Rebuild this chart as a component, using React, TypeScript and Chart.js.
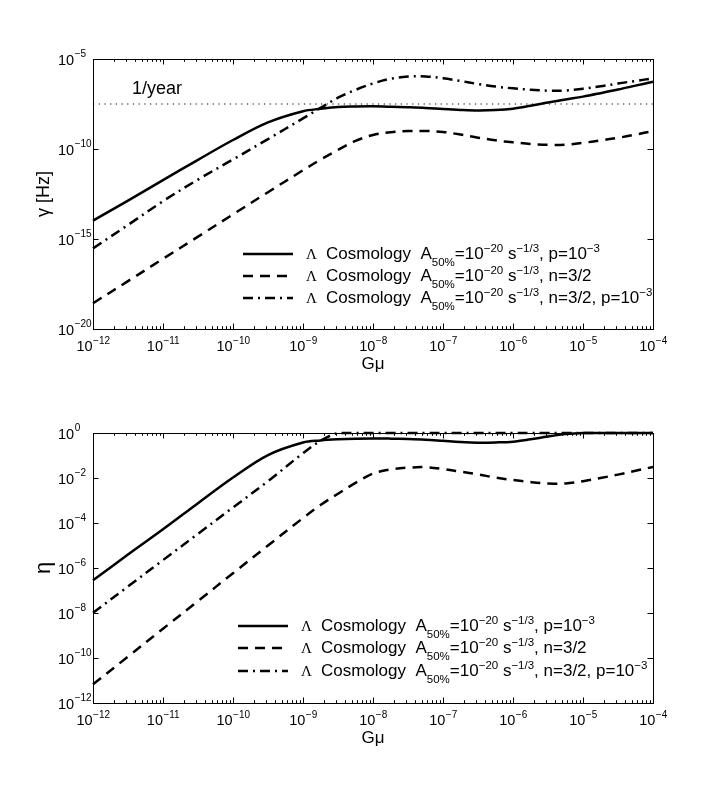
import React, { useEffect, useRef } from 'react';
import { Chart, registerables } from 'chart.js';

Chart.register(...registerables);

// ---------- data ----------
const GMU = [
  1e-12, 3.162e-12, 1e-11, 3.162e-11, 1e-10, 3.162e-10, 1e-9, 1.778e-9, 3.162e-9, 5.623e-9,
  1e-8, 1.778e-8, 3.162e-8, 5.623e-8, 1e-7, 1.778e-7, 3.162e-7, 5.623e-7, 1e-6, 1.778e-6,
  3.162e-6, 5.623e-6, 1e-5, 1.778e-5, 3.162e-5, 5.623e-5, 1e-4,
];

// gamma [Hz]
const GAMMA_P = [
  1.05e-14, 1.35e-13, 1.86e-12, 2.51e-11, 3.16e-10, 3.02e-9, 1.26e-8, 1.7e-8, 2.14e-8, 2.29e-8,
  2.34e-8, 2.24e-8, 2.09e-8, 1.91e-8, 1.66e-8, 1.48e-8, 1.38e-8, 1.45e-8, 1.74e-8, 2.51e-8,
  3.8e-8, 5.62e-8, 8.13e-8, 1.26e-7, 2.0e-7, 3.31e-7, 5.5e-7,
];
const GAMMA_N = [
  2.69e-19, 4.57e-18, 7.94e-17, 1.35e-15, 2.34e-14, 3.98e-13, 6.61e-12, 2.57e-11, 8.91e-11, 2.82e-10,
  6.03e-10, 8.51e-10, 1.0e-9, 1.0e-9, 8.91e-10, 6.31e-10, 4.27e-10, 3.02e-10, 2.34e-10, 1.91e-10,
  1.7e-10, 1.74e-10, 2.19e-10, 3.02e-10, 4.17e-10, 6.31e-10, 1.0e-9,
];
const GAMMA_NP = [
  3.02e-16, 6.03e-15, 1.26e-13, 2.0e-12, 2.63e-11, 3.55e-10, 5.01e-9, 1.91e-8, 7.08e-8, 1.91e-7,
  4.37e-7, 7.94e-7, 1.05e-6, 1.07e-6, 8.51e-7, 6.03e-7, 4.07e-7, 2.95e-7, 2.34e-7, 1.95e-7,
  1.74e-7, 1.78e-7, 2.24e-7, 3.02e-7, 4.37e-7, 6.03e-7, 8.51e-7,
];
const ONE_OVER_YEAR_HZ = 3.17e-8;

// eta
const ETA_P = [
  2.82e-7, 3.98e-6, 5.25e-5, 7.59e-4, 1.05e-2, 0.105, 0.38, 0.468, 0.525, 0.562,
  0.575, 0.562, 0.537, 0.501, 0.447, 0.398, 0.372, 0.38, 0.41, 0.525,
  0.7, 0.891, 1, 1, 1, 1, 1,
];
const ETA_N = [
  6.76e-12, 1.15e-10, 2.0e-9, 3.39e-8, 5.89e-7, 1.0e-5, 1.66e-4, 6.31e-4, 2.0e-3, 6.03e-3,
  1.58e-2, 2.4e-2, 2.88e-2, 3.02e-2, 2.51e-2, 1.91e-2, 1.45e-2, 1.05e-2, 8.13e-3, 6.61e-3,
  5.75e-3, 5.75e-3, 7.24e-3, 1.0e-2, 1.41e-2, 2.09e-2, 3.09e-2,
];
const ETA_NP = [
  1.02e-8, 1.51e-7, 2.24e-6, 3.31e-5, 4.9e-4, 7.24e-3, 0.126, 0.447, 1, 1,
  1, 1, 1, 1, 1, 1, 1, 1, 1, 1,
  1, 1, 1, 1, 1, 1, 1,
];

// ticks
const X_TICKS = [1e-12, 1e-11, 1e-10, 1e-9, 1e-8, 1e-7, 1e-6, 1e-5, 1e-4];
const X_TICK_EXP = ['−12', '−11', '−10', '−9', '−8', '−7', '−6', '−5', '−4'];
const MINOR_MULT = [2, 3, 4, 5, 6, 7, 8, 9];
const GAMMA_TICKS = [1e-5, 1e-10, 1e-15, 1e-20];
const GAMMA_TICK_EXP = ['−5', '−10', '−15', '−20'];
const ETA_TICKS = [1, 1e-2, 1e-4, 1e-6, 1e-8, 1e-10, 1e-12];
const ETA_TICK_EXP = ['0', '−2', '−4', '−6', '−8', '−10', '−12'];

// texts
const X_TITLE = 'Gμ';
const GAMMA_TITLE = 'γ [Hz]';
const ETA_TITLE = 'η';
const YEAR_LABEL = '1/year';
type Seg = { t: string; k: 'n' | 's' | 'b' };
const LEGEND_ROWS: Seg[][] = [
  [
    { t: 'Cosmology  A', k: 'n' }, { t: '50%', k: 'b' }, { t: '=10', k: 'n' }, { t: '−20', k: 's' },
    { t: ' s', k: 'n' }, { t: '−1/3', k: 's' }, { t: ', p=10', k: 'n' }, { t: '−3', k: 's' },
  ],
  [
    { t: 'Cosmology  A', k: 'n' }, { t: '50%', k: 'b' }, { t: '=10', k: 'n' }, { t: '−20', k: 's' },
    { t: ' s', k: 'n' }, { t: '−1/3', k: 's' }, { t: ', n=3/2', k: 'n' },
  ],
  [
    { t: 'Cosmology  A', k: 'n' }, { t: '50%', k: 'b' }, { t: '=10', k: 'n' }, { t: '−20', k: 's' },
    { t: ' s', k: 'n' }, { t: '−1/3', k: 's' }, { t: ', n=3/2, p=10', k: 'n' }, { t: '−3', k: 's' },
  ],
];
const LAMBDA = 'Λ';

// ---------- styles ----------
const SANS = '"Liberation Sans", Arial, Helvetica, sans-serif';
const SERIF = '"Liberation Serif", "Times New Roman", serif';
const DASHES: number[][] = [[], [10, 7], [10, 5, 2, 5]];
const LW = 2.5;

function series(ys: number[]) {
  return GMU.map((g, i) => ({ x: g, y: ys[i] }));
}

function makeDatasets(p: number[], n: number[], np: number[]) {
  return [p, n, np].map((arr, i) => ({
    data: series(arr),
    borderColor: '#000',
    borderWidth: LW,
    borderDash: DASHES[i],
    pointRadius: 0,
    tension: 0.35,
    fill: false,
    clip: 4,
  }));
}

function drawRich(ctx: CanvasRenderingContext2D, segs: Seg[], x: number, y: number, size: number, small: number) {
  let cx = x;
  ctx.textAlign = 'left';
  ctx.textBaseline = 'alphabetic';
  for (const s of segs) {
    ctx.font = `${s.k === 'n' ? size : small}px ${SANS}`;
    const dy = s.k === 's' ? -size * 0.42 : s.k === 'b' ? size * 0.4 : 0;
    ctx.fillText(s.t, cx, y + dy);
    cx += ctx.measureText(s.t).width;
  }
}

type PanelOpts = {
  yTicks: number[];
  yExp: string[];
  yTitle: string;
  yTitleSize: number;
  legendOffsets: number[];
  legendLineX: number;
  yearLine: boolean;
};

function axesPlugin(o: PanelOpts) {
  return {
    id: 'matlabAxes',
    afterDatasetsDraw(chart: any) {
      const { ctx, chartArea: a, scales } = chart;
      const xs = scales.x;
      const ys = scales.y;
      ctx.save();
      ctx.strokeStyle = '#000';
      ctx.fillStyle = '#000';
      ctx.lineWidth = 1;
      ctx.setLineDash([]);
      ctx.strokeRect(a.left + 0.5, a.top + 0.5, a.right - a.left, a.bottom - a.top);
      ctx.beginPath();
      const MAJ = 5.5;
      const MIN = 2.8;
      X_TICKS.forEach((v, i) => {
        const px = Math.round(xs.getPixelForValue(v)) + 0.5;
        ctx.moveTo(px, a.bottom); ctx.lineTo(px, a.bottom - MAJ);
        ctx.moveTo(px, a.top); ctx.lineTo(px, a.top + MAJ);
        if (i < X_TICKS.length - 1) {
          MINOR_MULT.forEach((m) => {
            const qx = Math.round(xs.getPixelForValue(v * m)) + 0.5;
            ctx.moveTo(qx, a.bottom); ctx.lineTo(qx, a.bottom - MIN);
            ctx.moveTo(qx, a.top); ctx.lineTo(qx, a.top + MIN);
          });
        }
      });
      o.yTicks.forEach((v) => {
        const py = Math.round(ys.getPixelForValue(v)) + 0.5;
        ctx.moveTo(a.left, py); ctx.lineTo(a.left + MAJ, py);
        ctx.moveTo(a.right, py); ctx.lineTo(a.right - MAJ, py);
      });
      ctx.stroke();

      // tick labels
      const BIG = 14.5;
      const SMALL = 10;
      ctx.textBaseline = 'alphabetic';
      X_TICKS.forEach((v, i) => {
        const px = xs.getPixelForValue(v);
        ctx.font = `${BIG}px ${SANS}`;
        const w1 = ctx.measureText('10').width;
        ctx.font = `${SMALL}px ${SANS}`;
        const w2 = ctx.measureText(X_TICK_EXP[i]).width;
        const start = px - (w1 + w2) / 2;
        ctx.textAlign = 'left';
        ctx.font = `${BIG}px ${SANS}`;
        ctx.fillText('10', start, a.bottom + 22);
        ctx.font = `${SMALL}px ${SANS}`;
        ctx.fillText(X_TICK_EXP[i], start + w1 + 0.5, a.bottom + 15);
      });
      o.yTicks.forEach((v, i) => {
        const py = ys.getPixelForValue(v);
        const lx = a.left - 35;
        ctx.textAlign = 'left';
        ctx.font = `${BIG}px ${SANS}`;
        const w1 = ctx.measureText('10').width;
        ctx.fillText('10', lx, py + 5.5);
        ctx.font = `${SMALL}px ${SANS}`;
        ctx.fillText(o.yExp[i], lx + w1 + 0.5, py - 2.5);
      });

      // axis titles
      ctx.font = `17px ${SANS}`;
      ctx.textAlign = 'center';
      ctx.fillText(X_TITLE, (a.left + a.right) / 2, a.bottom + 39.5);
      ctx.save();
      ctx.translate(44, (a.top + a.bottom) / 2);
      ctx.rotate(-Math.PI / 2);
      ctx.font = `${o.yTitleSize}px ${SANS}`;
      ctx.textBaseline = 'middle';
      ctx.fillText(o.yTitle, 0, 0);
      ctx.restore();

      if (o.yearLine) {
        ctx.font = `18px ${SANS}`;
        ctx.textAlign = 'left';
        ctx.textBaseline = 'alphabetic';
        ctx.fillText(YEAR_LABEL, a.left + 39, ys.getPixelForValue(ONE_OVER_YEAR_HZ) - 10);
      }

      // legend
      LEGEND_ROWS.forEach((segs, i) => {
        const y = a.bottom - o.legendOffsets[i];
        const lx0 = a.left + o.legendLineX;
        ctx.lineWidth = LW;
        ctx.setLineDash(DASHES[i]);
        ctx.beginPath();
        ctx.moveTo(lx0, y);
        ctx.lineTo(lx0 + 50, y);
        ctx.stroke();
        ctx.setLineDash([]);
        ctx.textAlign = 'left';
        ctx.textBaseline = 'alphabetic';
        ctx.font = `15px ${SERIF}`;
        ctx.fillText(LAMBDA, lx0 + 63, y + 4.8);
        drawRich(ctx, segs, lx0 + 83, y + 5, 17, 11.5);
      });
      ctx.restore();
    },
  };
}

function baseOptions(padding: any, yMin: number, yMax: number) {
  return {
    animation: false as const,
    responsive: false,
    events: [] as any[],
    layout: { padding },
    plugins: { legend: { display: false }, tooltip: { enabled: false } },
    scales: {
      x: { type: 'logarithmic' as const, min: 1e-12, max: 1e-4, display: false },
      y: { type: 'logarithmic' as const, min: yMin, max: yMax, display: false },
    },
  };
}

export default function App() {
  const topRef = useRef<HTMLCanvasElement>(null);
  const botRef = useRef<HTMLCanvasElement>(null);

  useEffect(() => {
    const charts: Chart[] = [];
    if (topRef.current) {
      const ds: any[] = makeDatasets(GAMMA_P, GAMMA_N, GAMMA_NP);
      ds.push({
        data: [{ x: 1e-12, y: ONE_OVER_YEAR_HZ }, { x: 1e-4, y: ONE_OVER_YEAR_HZ }],
        borderColor: '#000',
        borderWidth: 1.1,
        borderDash: [1.2, 4.5],
        pointRadius: 0,
        fill: false,
      });
      charts.push(
        new Chart(topRef.current, {
          type: 'line',
          data: { datasets: ds },
          options: baseOptions({ left: 93, right: 67, top: 59, bottom: 66 }, 1e-20, 1e-5) as any,
          plugins: [
            axesPlugin({
              yTicks: GAMMA_TICKS,
              yExp: GAMMA_TICK_EXP,
              yTitle: GAMMA_TITLE,
              yTitleSize: 18,
              legendOffsets: [75, 53, 31],
              legendLineX: 150,
              yearLine: true,
            }),
          ],
        })
      );
    }
    if (botRef.current) {
      charts.push(
        new Chart(botRef.current, {
          type: 'line',
          data: { datasets: makeDatasets(ETA_P, ETA_N, ETA_NP) as any },
          options: baseOptions({ left: 93, right: 67, top: 38, bottom: 88 }, 1e-12, 1) as any,
          plugins: [
            axesPlugin({
              yTicks: ETA_TICKS,
              yExp: ETA_TICK_EXP,
              yTitle: ETA_TITLE,
              yTitleSize: 22,
              legendOffsets: [77, 55, 32],
              legendLineX: 145,
              yearLine: false,
            }),
          ],
        })
      );
    }
    return () => charts.forEach((c) => c.destroy());
  }, []);

  return (
    <div style={{ position: 'absolute', left: 0, top: 0, width: 720, height: 791, background: '#fff' }}>
      <canvas ref={topRef} width={720} height={395} style={{ position: 'absolute', left: 0, top: 0, width: 720, height: 395 }} />
      <canvas ref={botRef} width={720} height={396} style={{ position: 'absolute', left: 0, top: 395, width: 720, height: 396 }} />
    </div>
  );
}
